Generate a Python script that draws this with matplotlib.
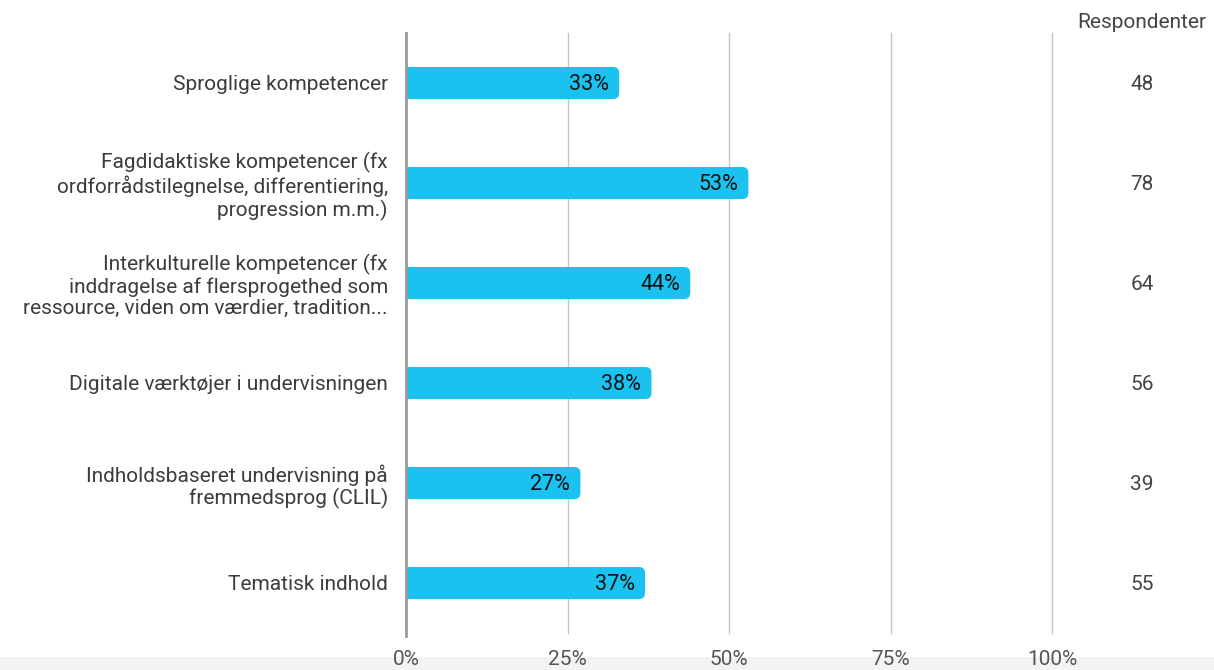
import numpy as np
import matplotlib.pyplot as plt
from matplotlib.patches import FancyBboxPatch, Rectangle
from matplotlib.transforms import blended_transform_factory

plt.rcParams['font.family'] = ['Roboto', 'DejaVu Sans']

kategorier = [
    "Sproglige kompetencer",
    "Fagdidaktiske kompetencer (fx\nordforrådstilegnelse, differentiering,\nprogression m.m.)",
    "Interkulturelle kompetencer (fx\ninddragelse af flersprogethed som\nressource, viden om værdier, tradition...",
    "Digitale værktøjer i undervisningen",
    "Indholdsbaseret undervisning på\nfremmedsprog (CLIL)",
    "Tematisk indhold",
]
procent = [33, 53, 44, 38, 27, 37]
respondenter = [48, 78, 64, 56, 39, 55]
xticks = [0, 25, 50, 75, 100]

fig = plt.figure(figsize=(12.14, 6.70), dpi=100)
fig.patch.set_facecolor('white')
# lys grå stribe nederst
fig.add_artist(Rectangle((0, 0), 1, 13/670, transform=fig.transFigure,
                         facecolor='#f3f3f3', edgecolor='none', zorder=-1))

ax = fig.add_axes([406/1214, 1-633/670, 646/1214, 600/670])
ax.set_xlim(0, 100)
ax.set_ylim(len(kategorier)-0.5, -0.5)
ax.patch.set_alpha(0)

farve = '#1bc2f0'
h = 0.32
# px pr. enhed -> aspect til afrundede hjørner
px_x = 646/100
px_y = 100
r = 6/px_x
for i, v in enumerate(procent):
    p = FancyBboxPatch((-5, i-h/2), v+5, h,
                       boxstyle=f"round,pad=0,rounding_size={r}",
                       mutation_aspect=px_x/px_y,
                       facecolor=farve, edgecolor='none', zorder=3)
    ax.add_patch(p)
    ax.text(v-1.6, i+0.02, f"{v}%", ha='right', va='center', fontsize=15.5,
            color='#111111', zorder=4)

for x in xticks[1:]:
    ax.axvline(x, color='#c6c6c6', lw=1, zorder=1, clip_on=False)
ax.plot([0, 0], [-0.5, 5.53], color='#9a9a9a', lw=2, zorder=5, clip_on=False)

for s in ax.spines.values():
    s.set_visible(False)
ax.set_xticks(xticks)
ax.set_xticklabels([f"{x}%" for x in xticks])
ax.tick_params(axis='x', length=0, pad=12, labelsize=15, labelcolor='#555555')
ax.set_yticks(range(len(kategorier)))
ax.set_yticklabels(kategorier)
ax.tick_params(axis='y', length=0, pad=13, labelsize=15, labelcolor='#3c3c3c')
for t in ax.get_yticklabels():
    t.set_linespacing(1.15)

# kolonne med antal respondenter
trans = blended_transform_factory(fig.transFigure, ax.transData)
for i, n in enumerate(respondenter):
    ax.text(1142/1214, i+0.02, str(n), transform=trans, ha='center', va='center',
            fontsize=15, color='#444444')
fig.text(1142/1214, 1-22/670, "Respondenter", ha='center', va='center',
         fontsize=15, color='#444444')

fig.savefig('out.png', dpi=100)
